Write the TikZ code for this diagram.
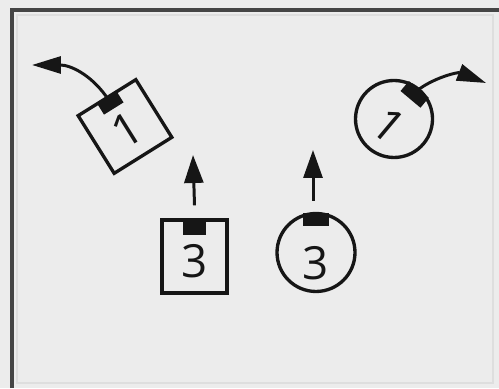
\documentclass[tikz,border=0pt]{standalone}
\usepackage{fontspec}
\newfontfamily\digitfont{Open Sans}
\usetikzlibrary{arrows.meta,calc,positioning}
\definecolor{paper}{RGB}{236,236,236}
\definecolor{ink}{RGB}{22,22,22}
\definecolor{rim}{RGB}{222,222,222}

\begin{document}
\begin{tikzpicture}[x=0.02cm,y=0.02cm,
  box/.style={draw=ink,line width=1.9pt,inner sep=0pt},
  tab/.style={fill=ink,inner sep=0pt,minimum width=0.46cm,minimum height=0.28cm},
  rtab/.style={fill=ink,inner sep=0pt,minimum width=0.52cm,minimum height=0.26cm},
  digit/.style={text=ink,font=\fontsize{26}{26}\selectfont\digitfont,inner sep=0pt},
  push/.style={draw=ink,line width=1.7pt,-{Triangle[length=5.6mm,width=3.8mm]}},
  turn/.style={draw=ink,line width=1.7pt,-{Triangle[length=5.8mm,width=3.4mm]}}]
\useasboundingbox (0,0) rectangle (499,388);
\fill[paper] (0,0) rectangle (499,388);
% frame
\draw[rim,line width=0.8pt] (17,5) rectangle (493,373);
\draw[ink!80,line width=1.8pt] (12,0) -- (12,378) -- (499,378);

% turned square, tab up left
\node[box,rotate=32,minimum size=1.36cm] (sqone) at (125,261.5) {};
\node[tab,rotate=32] (tabone) at ($(sqone.center)!0.79!(sqone.north)$) {};
\node[digit,rotate=32] (numone) at ($(sqone.center)!0.12!(sqone.south)$) {1};
\coordinate (endone) at (32,323);
\draw[turn] (tabone.north) .. controls (90,314) and (70,323) .. (endone);

% turned circle, tab up right
\node[box,circle,rotate=-40,minimum size=1.54cm] (cseven) at (394,269) {};
\node[rtab,rotate=-40] (tabseven) at ($(cseven.center)!0.8!(cseven.north)$) {};
\node[digit,rotate=-40] (numseven) at ($(cseven.center)!0.2!(cseven.south)$) {1};
\coordinate (endseven) at (486,305);
\draw[turn] (tabseven.north) .. controls (436,311) and (458,316) .. (endseven);

% square, tab up
\node[box,minimum width=1.3cm,minimum height=1.46cm] (sqthree) at (194.5,131.5) {};
\node[tab] (tabthree) at ($(sqthree.center)!0.74!(sqthree.north)$) {};
\node[digit] (numthree) at ($(sqthree.center)!0.11!(sqthree.south)$) {3};
\coordinate (upthree) at (193,233);
\draw[push] ($(sqthree.north)+(0,13)$) -- (upthree);

% circle, tab up
\node[box,circle,minimum size=1.56cm] (cthree) at (316,135.5) {};
\node[rtab] (tabc) at ($(cthree.center)!0.8!(cthree.north)$) {};
\node[digit] (numc) at ($(cthree.center)!0.26!(cthree.south)$) {3};
\coordinate (upc) at (313,238);
\draw[push] ($(cthree.north)+(-3,11)$) -- (upc);
\end{tikzpicture}
\end{document}
